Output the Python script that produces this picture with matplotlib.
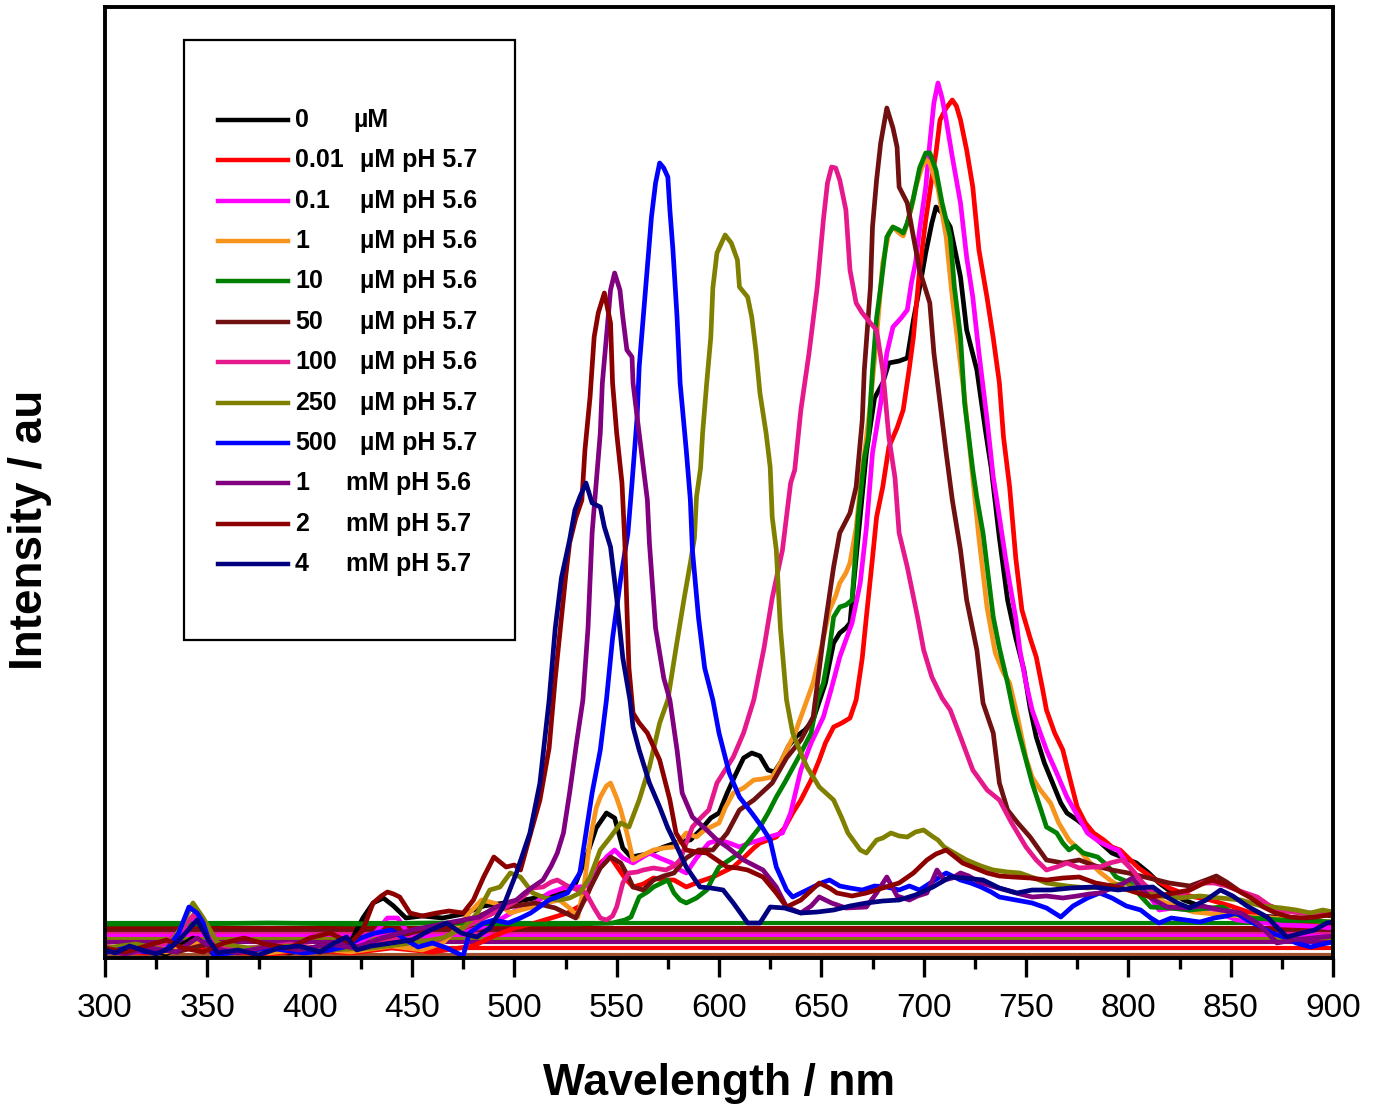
import matplotlib
matplotlib.use("Agg")
import matplotlib.pyplot as plt
from matplotlib.lines import Line2D
from matplotlib.patches import Rectangle

# --- emission spectra, one (wavelength, intensity) trace per concentration ---
WL_0 = [300, 315, 330, 343, 352, 370, 390, 405, 418, 426, 431, 436, 441, 447, 455, 465, 475, 485, 495, 505, 515, 524, 530, 535, 540, 545, 549, 553, 557, 565, 573, 580, 586, 591, 596, 600, 604, 608, 612, 616, 620, 624, 627, 630, 634, 638, 642, 646, 652, 656, 659, 662, 664, 667, 672, 676, 680, 683, 688, 692, 695, 698, 701, 704, 706, 709, 713, 718, 721, 726, 730, 733, 737, 741, 745, 749, 752, 755, 759, 763, 767, 770, 775, 780, 786, 792, 798, 804, 810, 815, 821, 827, 835, 845, 855, 865, 878, 890, 900]
I_0 = [6, 10, 4, 20, 6, 8, 5, 12, 8, 40, 55, 60, 52, 40, 42, 40, 44, 52, 55, 58, 62, 65, 75, 100, 130, 145, 140, 110, 101, 104, 111, 116, 118, 128, 140, 145, 165, 183, 200, 205, 202, 188, 186, 195, 212, 222, 228, 238, 275, 315, 325, 330, 335, 400, 505, 560, 575, 595, 597, 600, 638, 670, 705, 735, 751, 745, 731, 681, 628, 588, 530, 490, 420, 358, 320, 288, 250, 221, 195, 175, 155, 145, 138, 130, 116, 105, 100, 95, 85, 75, 66, 58, 52, 48, 45, 42, 40, 37, 35]

WL_001 = [300, 320, 340, 360, 380, 400, 420, 440, 460, 480, 490, 500, 510, 518, 526, 532, 535, 539, 542, 545, 547, 550, 554, 558, 563, 568, 573, 578, 584, 590, 597, 602, 607, 612, 617, 620, 624, 628, 632, 636, 640, 645, 649, 652, 656, 660, 664, 667, 670, 672, 675, 677, 680, 683, 687, 690, 693, 695, 698, 701, 704, 706, 708, 711, 714, 716, 718, 721, 724, 727, 731, 734, 737, 739, 742, 745, 748, 752, 755, 758, 760, 764, 768, 772, 775, 779, 783, 788, 792, 796, 800, 805, 812, 820, 830, 840, 850, 860, 870, 880, 890, 900]
I_001 = [8, 5, 10, 6, 4, 8, 5, 10, 6, 12, 22, 30, 35, 40, 45, 52, 60, 80, 95, 100, 101, 92, 80, 71, 74, 80, 78, 78, 71, 76, 81, 86, 91, 100, 110, 115, 118, 121, 130, 145, 158, 178, 198, 215, 231, 235, 240, 258, 300, 341, 400, 441, 471, 511, 530, 548, 590, 621, 688, 738, 780, 805, 838, 850, 858, 852, 838, 808, 771, 708, 660, 620, 575, 521, 471, 400, 348, 320, 301, 270, 248, 225, 208, 175, 151, 135, 125, 118, 111, 108, 100, 90, 80, 70, 62, 58, 52, 45, 40, 38, 35, 32]

WL_01 = [300, 315, 330, 340, 345, 350, 360, 380, 400, 420, 432, 438, 443, 448, 460, 475, 490, 501, 510, 517, 524, 531, 536, 540, 545, 549, 553, 558, 562, 566, 571, 577, 581, 584, 589, 595, 600, 605, 610, 615, 620, 626, 631, 635, 640, 645, 651, 655, 659, 662, 665, 669, 672, 675, 679, 682, 685, 689, 692, 694, 696, 698, 701, 703, 705, 707, 709, 711, 714, 718, 721, 724, 727, 731, 734, 737, 740, 742, 745, 747, 750, 753, 757, 760, 765, 770, 775, 780, 786, 792, 795, 799, 803, 807, 811, 815, 822, 830, 837, 843, 848, 853, 862, 875, 888, 900]
I_01 = [10, 6, 12, 30, 42, 20, 8, 12, 6, 10, 25, 40, 40, 25, 20, 25, 35, 48, 55, 65, 70, 71, 72, 85, 101, 108, 100, 95, 100, 105, 100, 95, 88, 85, 100, 115, 118, 115, 111, 115, 118, 122, 125, 145, 188, 215, 241, 270, 301, 318, 335, 375, 430, 505, 555, 605, 631, 640, 648, 675, 695, 728, 771, 815, 855, 875, 860, 838, 801, 755, 701, 661, 605, 538, 481, 441, 400, 375, 340, 308, 275, 248, 225, 208, 185, 161, 143, 125, 116, 110, 108, 95, 85, 75, 60, 48, 50, 48, 50, 48, 42, 38, 36, 33, 32, 30]

WL_1 = [300, 315, 330, 345, 360, 380, 400, 420, 440, 455, 465, 472, 478, 484, 490, 495, 498, 503, 509, 515, 522, 527, 531, 534, 537, 540, 542, 545, 547, 550, 552, 555, 558, 563, 568, 573, 578, 581, 584, 589, 593, 596, 600, 603, 607, 612, 617, 621, 626, 630, 633, 637, 640, 643, 646, 650, 654, 657, 659, 662, 664, 667, 670, 672, 674, 677, 680, 683, 685, 688, 690, 692, 694, 696, 699, 701, 703, 705, 707, 709, 711, 714, 717, 720, 723, 727, 731, 735, 739, 742, 746, 750, 753, 757, 762, 766, 771, 776, 781, 786, 791, 797, 803, 809, 815, 824, 832, 842, 855, 870, 885, 900]
I_1 = [5, 10, 6, 15, 8, 5, 10, 6, 12, 8, 15, 30, 45, 58, 55, 50, 45, 48, 51, 55, 58, 50, 41, 71, 118, 150, 161, 172, 175, 160, 148, 125, 98, 103, 108, 110, 111, 118, 125, 121, 128, 131, 135, 150, 165, 170, 178, 179, 181, 195, 208, 224, 241, 258, 275, 310, 348, 362, 375, 385, 395, 430, 488, 520, 555, 621, 695, 725, 731, 725, 722, 735, 750, 770, 790, 798, 795, 782, 770, 745, 721, 660, 610, 560, 500, 420, 350, 305, 285, 275, 240, 200, 181, 168, 155, 135, 118, 108, 96, 86, 78, 70, 66, 62, 58, 51, 46, 44, 42, 40, 38, 36]

WL_10 = [300, 340, 380, 420, 460, 500, 530, 548, 554, 557, 561, 565, 568, 572, 575, 578, 581, 584, 589, 594, 597, 600, 605, 610, 615, 620, 624, 628, 632, 636, 640, 645, 648, 651, 654, 656, 659, 662, 665, 668, 671, 673, 675, 677, 679, 682, 685, 688, 690, 692, 695, 698, 701, 703, 706, 709, 713, 715, 718, 720, 724, 726, 729, 734, 737, 741, 744, 747, 750, 753, 757, 760, 765, 768, 771, 774, 778, 785, 790, 794, 801, 806, 811, 820, 830, 840, 846, 852, 860, 875, 890, 900]
I_10 = [34, 34, 35, 34, 35, 34, 34, 35, 38, 41, 61, 66, 71, 75, 78, 65, 58, 55, 60, 68, 80, 91, 98, 105, 118, 131, 145, 161, 175, 190, 205, 225, 258, 275, 310, 341, 351, 353, 358, 441, 500, 521, 588, 640, 671, 721, 731, 728, 725, 735, 760, 790, 805, 805, 788, 755, 721, 671, 621, 555, 488, 460, 425, 341, 310, 275, 245, 221, 198, 175, 150, 131, 125, 115, 108, 112, 105, 101, 92, 81, 75, 62, 51, 50, 48, 50, 51, 44, 40, 38, 37, 36]

WL_50 = [300, 318, 335, 350, 365, 385, 405, 425, 440, 455, 470, 480, 490, 500, 510, 520, 530, 537, 542, 547, 552, 556, 558, 563, 568, 573, 578, 584, 590, 597, 604, 610, 617, 626, 633, 640, 646, 651, 656, 659, 664, 667, 670, 671, 674, 675, 677, 679, 682, 685, 687, 688, 692, 695, 698, 703, 705, 708, 711, 714, 718, 721, 726, 729, 734, 737, 741, 746, 752, 760, 768, 776, 784, 792, 800, 810, 820, 830, 838, 843, 848, 855, 865, 875, 885, 900]
I_50 = [8, 12, 6, 14, 8, 10, 6, 12, 20, 28, 35, 40, 48, 52, 55, 50, 40, 70, 90, 101, 95, 80, 71, 68, 78, 82, 85, 100, 108, 108, 125, 148, 158, 175, 200, 218, 241, 321, 391, 425, 445, 471, 538, 588, 671, 731, 778, 815, 850, 830, 811, 771, 755, 721, 688, 655, 605, 555, 505, 458, 408, 358, 308, 255, 225, 175, 148, 135, 121, 98, 95, 98, 92, 88, 85, 80, 75, 72, 78, 82, 76, 66, 55, 48, 45, 42]

WL_100 = [300, 315, 330, 338, 344, 349, 356, 370, 390, 410, 430, 445, 460, 470, 480, 490, 496, 504, 509, 514, 518, 521, 526, 531, 535, 539, 542, 545, 548, 550, 553, 556, 560, 563, 568, 574, 578, 581, 584, 587, 591, 595, 599, 603, 607, 612, 617, 622, 626, 631, 635, 637, 640, 644, 648, 651, 653, 655, 657, 659, 662, 664, 667, 670, 674, 677, 680, 683, 686, 688, 692, 697, 700, 704, 709, 713, 718, 724, 731, 737, 743, 750, 755, 760, 765, 770, 776, 783, 786, 791, 797, 802, 807, 811, 818, 824, 830, 836, 842, 848, 853, 863, 872, 885, 900]
I_100 = [12, 8, 15, 30, 45, 30, 12, 8, 14, 8, 12, 20, 15, 25, 35, 45, 51, 61, 70, 71, 76, 78, 72, 68, 65, 50, 40, 38, 42, 51, 75, 85, 86, 88, 90, 88, 92, 98, 115, 131, 140, 148, 175, 188, 201, 225, 258, 310, 360, 408, 475, 488, 548, 605, 671, 738, 775, 791, 790, 778, 748, 688, 655, 645, 635, 628, 588, 521, 480, 425, 391, 341, 308, 281, 260, 248, 221, 188, 168, 158, 135, 111, 98, 88, 91, 95, 90, 91, 91, 95, 98, 88, 75, 68, 63, 61, 68, 75, 75, 72, 68, 61, 48, 45, 45]

WL_250 = [300, 315, 330, 337, 343, 348, 355, 370, 390, 410, 430, 450, 465, 475, 482, 488, 493, 498, 503, 509, 515, 522, 527, 532, 537, 542, 547, 552, 556, 561, 566, 571, 575, 579, 583, 586, 588, 589, 591, 592, 594, 596, 597, 599, 603, 606, 609, 610, 614, 616, 618, 620, 623, 625, 626, 628, 630, 633, 636, 640, 643, 649, 656, 660, 663, 669, 672, 677, 680, 684, 688, 692, 696, 700, 704, 707, 710, 715, 721, 728, 734, 741, 747, 754, 760, 770, 780, 790, 799, 806, 815, 825, 835, 845, 855, 865, 875, 882, 889, 895, 900]
I_250 = [10, 14, 8, 30, 55, 40, 15, 10, 12, 8, 10, 15, 20, 30, 45, 68, 71, 85, 81, 65, 60, 58, 60, 65, 81, 108, 121, 135, 131, 158, 191, 235, 258, 310, 360, 395, 420, 461, 490, 525, 575, 621, 670, 705, 723, 715, 698, 671, 661, 641, 608, 565, 525, 491, 441, 408, 330, 258, 225, 205, 191, 171, 158, 140, 125, 108, 105, 118, 120, 125, 122, 121, 126, 128, 122, 118, 111, 105, 98, 92, 88, 86, 85, 80, 75, 72, 70, 72, 75, 66, 62, 60, 62, 60, 58, 52, 50, 48, 45, 48, 46]

WL_500 = [300, 310, 320, 330, 336, 341, 345, 348, 353, 365, 380, 397, 410, 417, 425, 432, 440, 447, 453, 460, 467, 472, 475, 478, 485, 490, 497, 503, 508, 517, 526, 532, 535, 538, 542, 545, 548, 552, 555.5, 557.5, 560, 561, 563, 565, 567, 569, 571, 573, 575, 576, 577.5, 579.5, 581, 584, 586, 587, 590, 593, 597, 600, 605, 610, 616, 621, 625, 628, 633, 636, 640, 645, 650, 654, 659, 664, 670, 676, 682, 688, 693, 698, 704, 711, 718, 723, 728, 733, 737, 745, 753, 760, 767, 773, 780, 786, 792, 799, 806, 811, 815, 821, 828, 835, 842, 848, 853, 858, 864, 870, 876, 882, 889, 895, 900]
I_500 = [5, 10, 6, 8, 25, 51, 45, 35, 3, 6, 10, 5, 8, 11, 20, 25, 28, 18, 11, 15, 10, 5, 2, 25, 35, 38, 35, 40, 45, 58, 65, 85, 125, 165, 208, 258, 320, 380, 425, 475, 541, 591, 641, 691, 741, 775, 795, 790, 781, 748, 708, 641, 575, 508, 458, 408, 340, 290, 258, 225, 185, 161, 145, 131, 118, 91, 68, 61, 65, 70, 75, 78, 72, 70, 68, 72, 71, 68, 72, 68, 76, 85, 78, 75, 71, 66, 61, 58, 55, 50, 41, 52, 60, 65, 60, 52, 48, 40, 35, 40, 38, 36, 40, 42, 45, 38, 32, 25, 21, 15, 11, 14, 16]

WL_1m = [300, 310, 322, 335, 345, 352, 365, 380, 395, 410, 422, 435, 450, 460, 467, 475, 483, 490, 496, 501, 505, 509, 514, 518, 521, 524, 527, 530.6, 533.5, 536, 538, 540, 542, 543, 545, 547, 549, 551.6, 553, 555, 557.5, 558, 560, 563, 565, 566, 569, 573, 576, 579.5, 582, 587, 594, 599, 604, 612, 621.5, 628, 633, 640, 645, 649, 655, 662, 672, 677, 682, 687, 693, 697, 701.6, 706.5, 710, 714, 718, 722, 727, 733, 740, 747, 753, 760, 768, 775, 781, 786, 792, 797, 802, 806, 811, 819, 828, 836, 845, 855, 863, 868, 872.6, 880, 890, 900]
I_1m = [8, 4, 10, 6, 20, 10, 5, 12, 8, 14, 10, 20, 28, 32, 35, 38, 41, 50, 55, 58, 65, 71, 78, 92, 105, 125, 165, 218, 258, 330, 425, 475, 525, 575, 621, 668, 685, 668, 641, 608, 601, 575, 541, 491, 458, 415, 330, 280, 258, 208, 165, 141, 128, 118, 111, 98, 88, 71, 51, 45, 52, 61, 55, 50, 51, 65, 81, 62, 58, 62, 65, 88, 78, 80, 85, 82, 76, 72, 68, 64, 61, 62, 60, 62, 64, 65, 70, 74, 80, 70, 60, 51, 50, 52, 48, 45, 35, 25, 15, 18, 20, 22]

WL_2m = [300, 310, 320, 330, 338, 348, 358, 368, 378, 390, 400, 410, 420, 426, 431, 435, 438, 441, 444, 449, 455, 462, 468, 475, 480, 485, 490, 496, 500, 503, 508, 512.5, 517, 520, 523, 525, 527, 530, 533, 534.5, 537, 539, 541, 544, 546, 547, 548, 550, 552.6, 554, 555, 556, 558, 561, 565, 571, 576, 579, 584, 589, 594, 599, 604, 609, 614, 621.5, 628, 633, 640, 649, 654, 657.6, 665, 672, 680, 688, 695, 701.6, 706, 711, 716, 719, 725, 731, 737, 743.6, 752, 760, 768, 776, 784, 792, 800, 811, 820, 830, 836, 841, 847, 853, 860, 866, 872, 879, 886, 892, 900]
I_2m = [10, 6, 12, 18, 10, 6, 15, 20, 14, 10, 20, 25, 15, 28, 55, 62, 66, 64, 61, 45, 42, 45, 47, 45, 58, 81, 101, 91, 93, 88, 125, 158, 210, 280, 340, 380, 415, 440, 458, 508, 561, 621, 645, 665, 645, 635, 575, 525, 475, 415, 350, 290, 245, 235, 225, 198, 158, 125, 108, 106, 105, 98, 91, 90, 88, 81, 65, 51, 58, 75, 70, 65, 62, 65, 70, 75, 85, 98, 104, 108, 100, 95, 90, 85, 82, 81, 80, 78, 80, 81, 75, 72, 68, 61, 64, 68, 74, 78, 74, 68, 60, 51, 45, 41, 40, 41, 44]

WL_4m = [300, 305, 312, 318, 325, 332, 338, 345, 350, 355, 365, 375, 385, 395, 405, 412, 418, 423, 430, 440, 450, 459, 467, 474, 481.7, 488, 494.5, 501, 507.6, 512.5, 517, 520, 523, 527, 529.6, 532, 535, 538, 542, 544, 547, 550, 553, 556.5, 558, 561, 566, 571, 575, 579.5, 584, 590.7, 596, 602, 607, 614, 620, 625, 632, 640, 648, 656, 664, 672, 680, 688, 696, 704.5, 713, 720, 729, 737, 745.6, 753, 762, 772, 783, 795, 803, 812, 818, 824, 830, 838, 845, 851, 858, 867.8, 873, 877.5, 885, 891, 897, 900]
I_4m = [8, 5, 12, 8, 4, 10, 22, 38, 20, 5, 8, 3, 10, 12, 6, 15, 21, 8, 12, 15, 18, 28, 35, 25, 21, 30, 51, 85, 125, 175, 258, 330, 380, 418, 448, 461, 475, 455, 451, 431, 411, 360, 300, 258, 231, 208, 175, 151, 130, 111, 91, 71, 70, 68, 55, 35, 35, 51, 50, 45, 46, 48, 52, 55, 57, 58, 63, 71, 81, 80, 78, 70, 65, 68, 68, 70, 71, 68, 70, 71, 62, 55, 50, 58, 68, 62, 52, 41, 30, 21, 25, 28, 35, 36]

SERIES_WL = [WL_0, WL_001, WL_01, WL_1, WL_10, WL_50, WL_100, WL_250, WL_500, WL_1m, WL_2m, WL_4m]
SERIES_I = [I_0, I_001, I_01, I_1, I_10, I_50, I_100, I_250, I_500, I_1m, I_2m, I_4m]

CONC = ["0", "0.01", "0.1", "1", "10", "50", "100", "250", "500", "1", "2", "4"]
UNIT = ["\u00b5M", "\u00b5M pH 5.7", "\u00b5M pH 5.6", "\u00b5M pH 5.6", "\u00b5M pH 5.6",
        "\u00b5M pH 5.7", "\u00b5M pH 5.6", "\u00b5M pH 5.7", "\u00b5M pH 5.7",
        "mM pH 5.6", "mM pH 5.7", "mM pH 5.7"]
COLORS = ["#000000", "#FF0000", "#FF00FF", "#F7941D", "#008000", "#701010",
          "#E6198C", "#808000", "#0000FF", "#800080", "#8C0000", "#000080"]

# flat offset lines sitting at the bottom of the plot (level, colour)
BASE_LEVEL = [35, 30, 27, 24, 22, 19, 16, 10, 3]
BASE_COLOR = ["#008000", "#8C0000", "#701010", "#E6198C", "#FF00FF", "#808000",
              "#800080", "#FF0000", "#A0522D"]

plt.rcParams["font.family"] = ["Liberation Sans", "DejaVu Sans"]

W, H = 1378, 1110
fig = plt.figure(figsize=(W / 100, H / 100), dpi=100)
ax = fig.add_axes([105 / W, 1 - 958 / H, 1228 / W, 951 / H])


def fxy(px, py):
    # figure pixels (top-left origin) -> figure fraction
    return px / W, 1 - py / H


for lvl, col in zip(BASE_LEVEL, BASE_COLOR):
    ax.hlines(lvl, 300, 900, color=col, lw=3.0, zorder=1)

for wl, inten, col in zip(SERIES_WL, SERIES_I, COLORS):
    ax.plot(wl, inten, color=col, lw=3.4, solid_joinstyle="round",
            solid_capstyle="round", zorder=2)

ax.set_xlim(300, 900)
ax.set_ylim(0, 951)
ax.set_xticks(range(300, 901, 50))
ax.set_xticks(range(325, 900, 50), minor=True)
ax.set_yticks([])
ax.tick_params(axis="x", which="major", direction="out", length=14, width=2.4,
               labelsize=24, pad=11)
ax.tick_params(axis="x", which="minor", direction="out", length=8, width=2.4)
for sp in ax.spines.values():
    sp.set_linewidth(2.8)

fig.text(*fxy(719, 1083), "Wavelength / nm", ha="center", va="center",
         fontsize=32, fontweight="bold")
fig.text(*fxy(30, 530), "Intensity / au", ha="center", va="center",
         rotation=90, fontsize=33, fontweight="bold")

# hand-built legend so the unit column lines up
x0, y0 = fxy(184, 640)
x1, y1 = fxy(515, 40)
fig.add_artist(Rectangle((x0, y0), x1 - x0, y1 - y0, transform=fig.transFigure,
                         fill=True, facecolor="white", edgecolor="black", lw=1.6, zorder=5))
for i, (conc, unit, col) in enumerate(zip(CONC, UNIT, COLORS)):
    ry = 120 + 40.36 * i
    lx0, ly = fxy(218, ry)
    lx1, _ = fxy(288, ry)
    fig.add_artist(Line2D([lx0, lx1], [ly, ly], transform=fig.transFigure,
                          color=col, lw=3.2, zorder=6))
    fig.text(*fxy(295, ry), conc, ha="left", va="center", fontsize=18,
             fontweight="bold", zorder=6)
    ux = 346 if unit.startswith("mM") else (353 if i == 0 else 360)
    fig.text(*fxy(ux, ry), unit, ha="left", va="center", fontsize=18,
             fontweight="bold", zorder=6)

fig.savefig("out.png", dpi=100)
